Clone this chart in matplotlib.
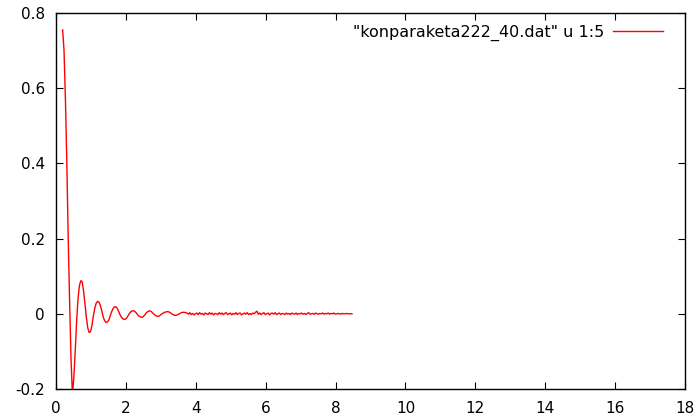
import numpy as np
import matplotlib.pyplot as plt

# column 5 of konparaketa222_40.dat, sampled every 0.04 starting at x = 0.19
x_start = 0.19
x_step = 0.04

y_ringing = [
    0.755, 0.70, 0.57, 0.40, 0.20, 0.03, -0.12, -0.215, -0.17,
    -0.10, -0.02, 0.04, 0.075, 0.088, 0.085, 0.06, 0.025, -0.01, -0.038,
    -0.05, -0.047, -0.03, -0.005, 0.015, 0.028, 0.033, 0.031, 0.022, 0.008,
    -0.008, -0.018, -0.023, -0.022, -0.017, -0.006, 0.005, 0.013, 0.018, 0.019,
    0.015, 0.007, -0.002, -0.009, -0.013, -0.015, -0.014, -0.010, -0.004, 0.002,
    0.006, 0.008, 0.008, 0.005, 0.001, -0.004, -0.007, -0.009, -0.009, -0.006,
    -0.002, 0.003, 0.006, 0.008, 0.007, 0.004, 0.000, -0.003, -0.006, -0.007,
    -0.006, -0.003, 0.000, 0.002, 0.004, 0.005, 0.006, 0.005, 0.003, 0.000,
    -0.002, -0.004, -0.004, -0.003, -0.001, 0.001, 0.003, 0.004, 0.004, 0.003,
]

y_noise = [
    0.002, -0.001, 0.003, -0.002, 0.001, -0.003, 0.000, 0.002, -0.002, 0.003,
    -0.001, 0.001, -0.003, 0.002, 0.000, -0.002, 0.003, -0.001, 0.002, -0.003,
    0.001, 0.000, -0.002, 0.003, -0.001,
    0.002, -0.002, 0.001, 0.003, -0.002, 0.000, 0.002, -0.003, 0.001, -0.001,
    0.003, -0.002, 0.001, 0.002, -0.003, 0.000, 0.002, -0.001, 0.003, -0.002,
    0.001, -0.002, 0.002, 0.000, 0.004,
    0.007, -0.001, 0.002, -0.002, 0.001, 0.003, -0.002, 0.000, 0.002, -0.003,
    0.001, 0.002, -0.001, 0.003, -0.002, 0.000, 0.002, -0.002, 0.001, 0.000,
    -0.002, 0.002, -0.001, 0.001, -0.002,
    0.002, 0.000, -0.001, 0.002, -0.002, 0.001, 0.000, 0.002, -0.001, 0.001,
    -0.002, 0.001, 0.003, -0.001, 0.000, 0.001, -0.001, 0.002, 0.000, -0.001,
    0.001, 0.000, 0.002, -0.001, 0.001,
    0.000, 0.002, -0.001, 0.001, 0.000, 0.002, -0.001, 0.000, 0.001, 0.000,
    -0.001, 0.001, 0.000, 0.000, 0.001, 0.000, 0.000, 0.000, 0.000,
]

y = np.array(y_ringing + y_noise)
x = np.round(x_start + x_step * np.arange(len(y)), 2)

x_ticks = [0, 2, 4, 6, 8, 10, 12, 14, 16, 18]
y_ticks = [-0.2, 0, 0.2, 0.4, 0.6, 0.8]
y_tick_labels = ['-0.2', '0', '0.2', '0.4', '0.6', '0.8']
legend_label = '"konparaketa222_40.dat" u 1:5'

plt.rcParams['font.family'] = 'DejaVu Sans'
plt.rcParams['font.size'] = 11

fig = plt.figure(figsize=(6.97, 4.19), dpi=100)
ax = fig.add_axes([56 / 697, 30 / 419, 629 / 697, 376 / 419])

ax.plot(x, y, color='#ff0000', linewidth=1.0, label=legend_label)

ax.set_xlim(0, 18)
ax.set_ylim(-0.2, 0.8)
ax.set_xticks(x_ticks)
ax.set_xticklabels([str(t) for t in x_ticks])
ax.set_yticks(y_ticks)
ax.set_yticklabels(y_tick_labels)
ax.tick_params(direction='in', length=5, width=0.8, top=True, right=True,
               colors='black')
ax.tick_params(axis='y', pad=8)
ax.tick_params(axis='x', pad=8.5)
for side in ax.spines.values():
    side.set_linewidth(1.0)

leg = ax.legend(loc='upper right', bbox_to_anchor=(0.975, 0.985),
                frameon=False, markerfirst=False, fontsize=11.5,
                handlelength=3.1, handletextpad=0.6, borderaxespad=0)

fig.savefig('out.png', dpi=100)
